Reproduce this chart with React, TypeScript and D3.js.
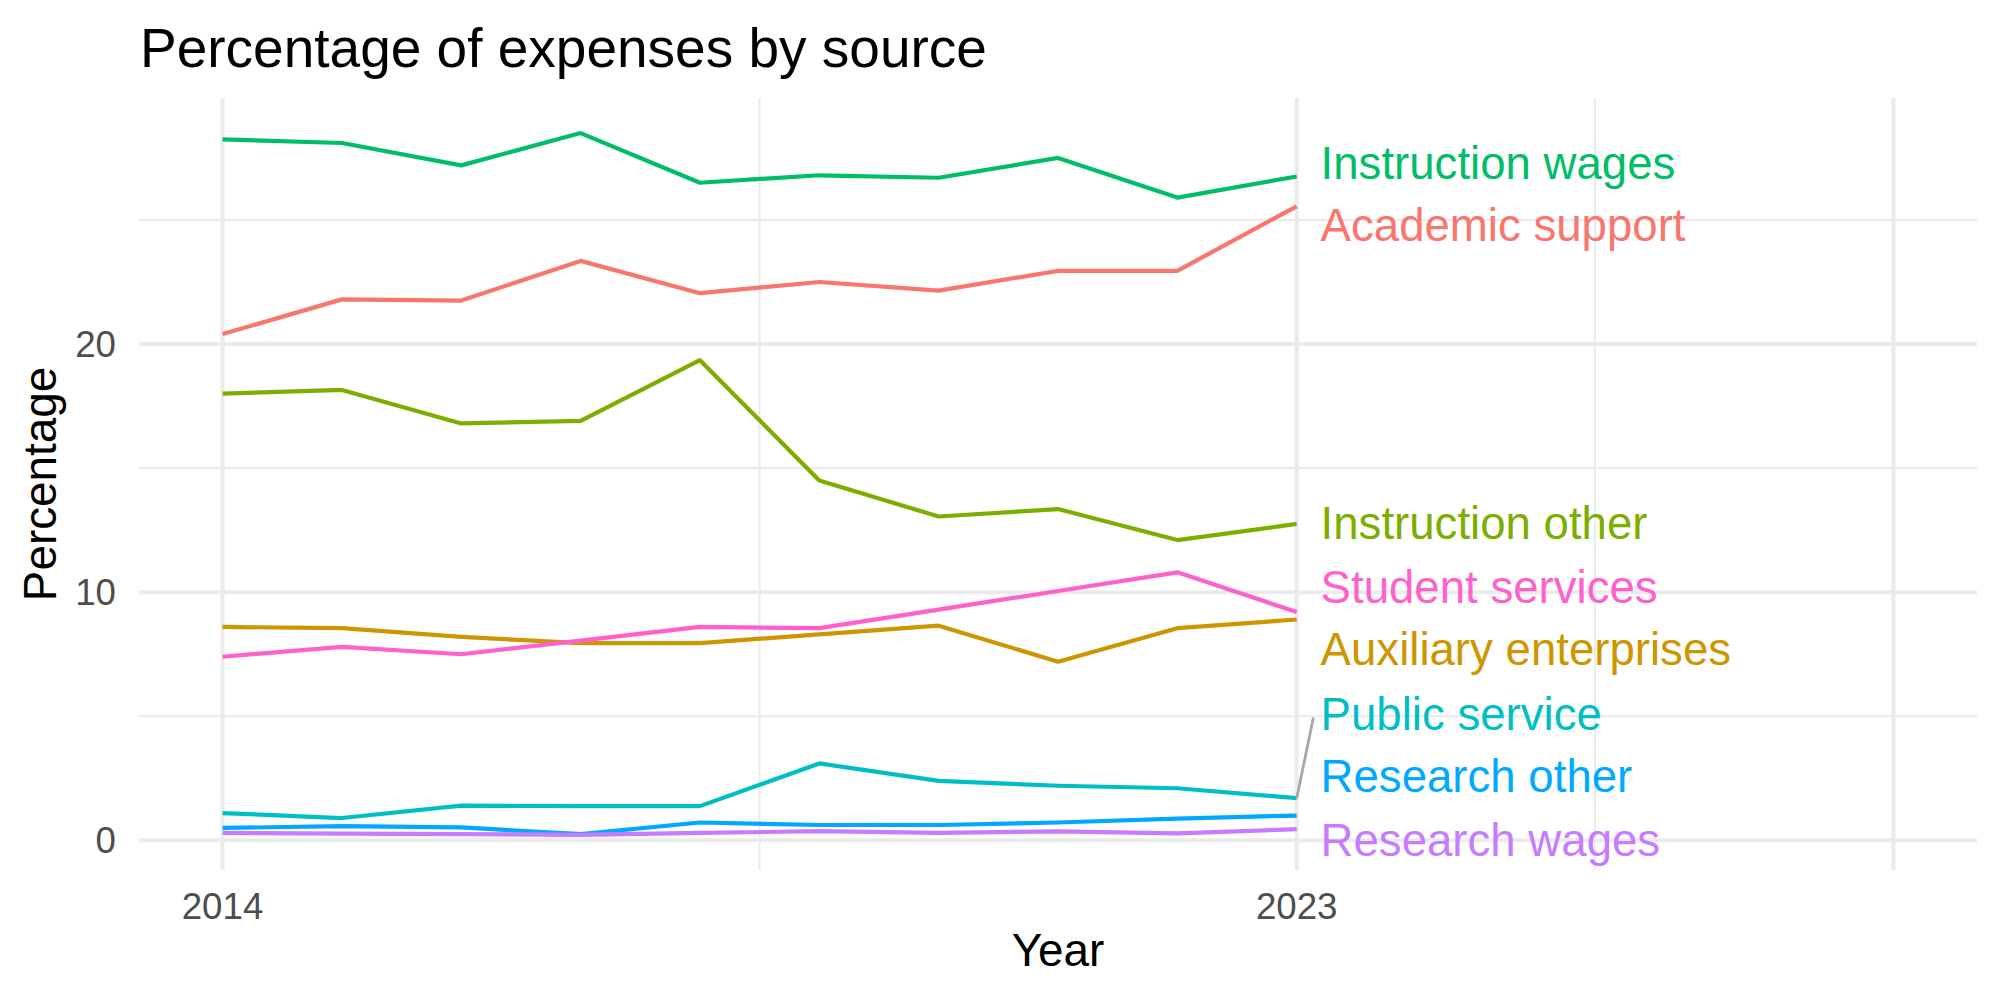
import React from 'react';
import * as d3 from 'd3';

const years = [2014, 2015, 2016, 2017, 2018, 2019, 2020, 2021, 2022, 2023];

const academicSupport = [20.4, 21.8, 21.75, 23.35, 22.05, 22.5, 22.15, 22.95, 22.95, 25.55];
const auxiliaryEnterprises = [8.6, 8.55, 8.2, 7.95, 7.95, 8.3, 8.65, 7.2, 8.55, 8.9];
const instructionOther = [18.0, 18.15, 16.8, 16.9, 19.35, 14.5, 13.05, 13.35, 12.1, 12.75];
const instructionWages = [28.25, 28.1, 27.2, 28.5, 26.5, 26.8, 26.7, 27.5, 25.9, 26.75];
const publicService = [1.1, 0.9, 1.4, 1.38, 1.38, 3.1, 2.4, 2.2, 2.1, 1.7];
const researchOther = [0.5, 0.57, 0.52, 0.25, 0.72, 0.62, 0.62, 0.72, 0.88, 1.0];
const researchWages = [0.3, 0.27, 0.25, 0.22, 0.3, 0.37, 0.3, 0.36, 0.28, 0.45];
const studentServices = [7.4, 7.8, 7.5, 8.05, 8.6, 8.55, 9.3, 10.05, 10.8, 9.2];

const seriesNames = [
  'Academic support',
  'Auxiliary enterprises',
  'Instruction other',
  'Instruction wages',
  'Public service',
  'Research other',
  'Research wages',
  'Student services',
];
const seriesValues = [
  academicSupport,
  auxiliaryEnterprises,
  instructionOther,
  instructionWages,
  publicService,
  researchOther,
  researchWages,
  studentServices,
];
const seriesColors = ['#F8766D', '#CD9600', '#7CAE00', '#00BE67', '#00BFC4', '#00A9FF', '#C77CFF', '#FF61CC'];

// where the repelled labels ended up (in data units)
const labelY = [24.8, 7.7, 12.8, 27.3, 5.1, 2.6, 0.0, 10.2];
const labelX = 2023.2;

const xMajor = [2014, 2023, 2028];
const xMinor = [2018.5, 2025.5];
const xTickLabels = [2014, 2023];
const yMajor = [0, 10, 20];
const yMinor = [5, 15, 25];

const font = '"Liberation Sans", Arial, Helvetica, sans-serif';

export default function App() {
  const width = 2000;
  const height = 1000;
  const panel = { left: 139, right: 1977, top: 98, bottom: 870 };

  const xScale = d3.scaleLinear()
    .domain([2013.3, 2028.7])
    .range([panel.left, panel.right]);

  const all = seriesValues.flat();
  const [lo, hi] = d3.extent(all) as [number, number];
  const pad = (hi - lo) * 0.05;
  const yScale = d3.scaleLinear()
    .domain([lo - pad, hi + pad])
    .range([panel.bottom, panel.top]);

  const line = d3.line<number>()
    .x((_, i) => xScale(years[i]))
    .y(d => yScale(d));

  const psIdx = seriesNames.indexOf('Public service');

  return (
    <svg width={width} height={height} style={{ position: 'absolute', left: 0, top: 0, background: '#fff' }}>
      {/* grid */}
      {yMinor.map(v => (
        <line key={'ym' + v} x1={panel.left} x2={panel.right} y1={yScale(v)} y2={yScale(v)} stroke="#EBEBEB" strokeWidth={2} />
      ))}
      {xMinor.map(v => (
        <line key={'xm' + v} x1={xScale(v)} x2={xScale(v)} y1={panel.top} y2={panel.bottom} stroke="#EBEBEB" strokeWidth={2} />
      ))}
      {yMajor.map(v => (
        <line key={'yM' + v} x1={panel.left} x2={panel.right} y1={yScale(v)} y2={yScale(v)} stroke="#EBEBEB" strokeWidth={4} />
      ))}
      {xMajor.map(v => (
        <line key={'xM' + v} x1={xScale(v)} x2={xScale(v)} y1={panel.top} y2={panel.bottom} stroke="#EBEBEB" strokeWidth={4} />
      ))}

      {/* lines */}
      {seriesValues.map((vals, i) => (
        <path key={seriesNames[i]} d={line(vals) ?? ''} fill="none" stroke={seriesColors[i]} strokeWidth={4.2} strokeLinejoin="round" />
      ))}

      {/* label segment for public service */}
      <line
        x1={xScale(2023)}
        y1={yScale(publicService[publicService.length - 1])}
        x2={xScale(2023.14)}
        y2={yScale(labelY[psIdx] - 0.15)}
        stroke="#A6A6A6"
        strokeWidth={2.8}
      />

      {/* labels */}
      {seriesNames.map((name, i) => (
        <text key={'lab' + name} x={xScale(labelX)} y={yScale(labelY[i]) + 16} fill={seriesColors[i]} fontSize={45.6} fontFamily={font}>
          {name}
        </text>
      ))}

      {/* axes text */}
      {yMajor.map(v => (
        <text key={'yt' + v} x={116} y={yScale(v) + 13} textAnchor="end" fill="#4D4D4D" fontSize={36.7} fontFamily={font}>
          {v}
        </text>
      ))}
      {xTickLabels.map(v => (
        <text key={'xt' + v} x={xScale(v)} y={919} textAnchor="middle" fill="#4D4D4D" fontSize={36.7} fontFamily={font}>
          {v}
        </text>
      ))}
      <text x={(panel.left + panel.right) / 2} y={966} textAnchor="middle" fill="#000" fontSize={45.8} fontFamily={font}>
        Year
      </text>
      <text
        transform={`translate(56, ${(panel.top + panel.bottom) / 2}) rotate(-90)`}
        textAnchor="middle"
        fill="#000"
        fontSize={45.8}
        fontFamily={font}
      >
        Percentage
      </text>
      <text x={140} y={67} fill="#000" fontSize={55} fontFamily={font}>
        Percentage of expenses by source
      </text>
    </svg>
  );
}
